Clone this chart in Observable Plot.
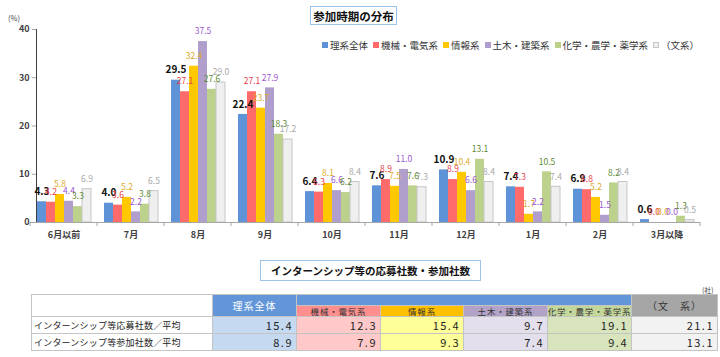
<!DOCTYPE html>
<html><head><meta charset="utf-8">
<script src="https://cdn.jsdelivr.net/npm/d3@7"></script>
<script src="https://cdn.jsdelivr.net/npm/@observablehq/plot@0.6"></script>
<style>
html,body{margin:0;padding:0;background:#fff;}
body{width:720px;height:357px;position:relative;overflow:hidden;font-family:"Noto Sans CJK JP","Noto Sans",sans-serif;color:#333;}
.box{position:absolute;border:1px solid #9cc3e8;background:#fff;font-weight:bold;color:#111;display:flex;align-items:center;justify-content:center;box-sizing:border-box;white-space:nowrap;}
#chart{position:absolute;left:0;top:0;}
#legend{position:absolute;top:39px;left:322px;display:flex;font-size:9.5px;white-space:nowrap;line-height:12px;color:#333;}
#legend .item{display:flex;align-items:center;margin-right:5px;}
#legend .sw{width:6px;height:6px;margin-right:2px;box-sizing:border-box;}
#pct{position:absolute;left:8px;top:12px;font-size:7.5px;color:#404040;}
#unit{position:absolute;left:702px;top:285px;font-size:7px;color:#404040;}
#tbl{position:absolute;left:31px;top:294px;display:grid;grid-template-columns:180px 83px 83px 82px 83px 83px 85px;grid-template-rows:10px 10px 16px 16px;gap:1px;padding:1px;background:#c4c4c4;}
#tbl div{display:flex;align-items:center;overflow:hidden;white-space:nowrap;}
#tbl .hd{justify-content:center;}
#tbl .lbl{background:#fff;font-size:9px;color:#222;padding-left:2px;letter-spacing:0.2px;}
#tbl .num{justify-content:flex-end;font-size:11px;color:#222;padding-right:3px;letter-spacing:1.5px;}
svg [aria-label^="y-axis"] line, svg [aria-label^="y-axis"] path{stroke:#a6a6a6;}
svg [aria-label^="y-axis"] text{font-weight:bold;}
svg [aria-label^="fx-axis"] text{font-weight:bold;}
</style>
</head><body>
<div id="chart"></div>
<div class="box" id="title1" style="left:310px;top:6px;width:87px;height:19px;font-size:11.5px;">参加時期の分布</div>
<div id="pct">(%)</div>
<div id="legend"></div>
<div class="box" id="title2" style="left:260px;top:260px;width:221px;height:21px;font-size:10.5px;">インターンシップ等の応募社数・参加社数</div>
<div id="unit">(社)</div>
<div id="tbl"></div>
<script>
const categories = ["6月以前","7月","8月","9月","10月","11月","12月","1月","2月","3月以降"];
const seriesNames = ["理系全体","機械・電気系","情報系","土木・建築系","化学・農学・薬学系","（文系）"];
const rikeiAll = [4.3,4.0,29.5,22.4,6.4,7.6,10.9,7.4,6.9,0.6];
const kikaiDenki = [4.2,3.6,27.1,27.1,6.3,8.9,8.9,7.3,6.8,0.0];
const jouhou = [5.8,5.2,32.4,23.7,8.1,7.5,10.4,1.7,5.2,0.0];
const dobokuKenchiku = [4.4,2.2,37.5,27.9,6.6,11.0,6.6,2.2,1.5,0.0];
const kagakuNouYaku = [3.3,3.8,27.6,18.3,6.2,7.6,13.1,10.5,8.2,1.3];
const bunkei = [6.9,6.5,29.0,17.2,8.4,7.3,8.4,7.4,8.4,0.5];
const yTicks = [0,10,20,30,40];
const barColors = ["#5f93d8","#ff6b6b","#ffc800","#b09fcc","#bcd18c","#efefef"];
const labelColors = ["#111111","#e8404b","#dcaa2a","#9a58d2","#5f8a35","#a8a8a8"];

const tableHeaders = ["理系全体","機械・電気系","情報系","土木・建築系","化学・農学・薬学系","（文　系）"];
const tableRowLabels = ["インターンシップ等応募社数／平均","インターンシップ等参加社数／平均"];
const applyCounts = [15.4,12.3,15.4,9.7,19.1,21.1];
const joinCounts = [8.9,7.9,9.3,7.4,9.4,13.1];
const headColors = ["#6296d8","#ff8e8e","#ffc000","#b3a2c8","#c4d79b","#a6a6a6"];
const cellColors = ["#c5d9f1","#ffc9c9","#ffff99","#e4dfec","#d8e4bc","#f2f2f2"];

const seriesValues = [rikeiAll,kikaiDenki,jouhou,dobokuKenchiku,kagakuNouYaku,bunkei];
const data = [];
categories.forEach((c,ci)=>seriesNames.forEach((s,si)=>data.push({month:c,series:s,value:seriesValues[si][ci]})));

const marks = [];
seriesNames.forEach((s,i)=>{
  const opts = {filter:d=>d.series===s, x:"series", y:"value", fill:barColors[i], inset:0};
  if (i===5) { opts.stroke = "#c6c6c6"; opts.strokeWidth = 1; }
  marks.push(Plot.barY(data, opts));
});
seriesNames.forEach((s,i)=>{
  marks.push(Plot.text(data,{filter:d=>d.series===s, x:"series", y:"value", text:d=>d.value.toFixed(1), dy:-10,
    fill:labelColors[i], fontSize:i===0?10:8.5, fontWeight:i===0?"bold":"normal"}));
});

const plot = Plot.plot({
  width:720, height:250, marginLeft:30, marginRight:20, marginTop:29, marginBottom:28,
  facet:{data, x:"month"},
  fx:{domain:categories, paddingInner:0.18, paddingOuter:0.09, axis:"bottom", tickSize:0, tickPadding:9, label:null},
  x:{domain:seriesNames, padding:0, axis:null},
  y:{domain:[0,40], ticks:yTicks, tickSize:4, tickPadding:3, line:true, label:null},
  style:{fontFamily:'"Noto Sans CJK JP","Noto Sans",sans-serif', fontSize:"9px", color:"#404040", background:"transparent"},
  marks
});
document.getElementById("chart").appendChild(plot);

// baseline and group separator ticks from the fx/y scales
const fx = plot.scale("fx");
const yS = plot.scale("y");
const y0 = yS.apply(0);
const step = fx.step ?? ((720-30-20)/categories.length);
const bw = fx.bandwidth ?? step*0.82;
const edges = categories.map(c=>fx.apply(c)-(step-bw)/2);
edges.push(edges[edges.length-1]+step);
const svg = plot.tagName.toLowerCase()==="svg" ? plot : plot.querySelector("svg");
const g = d3.select(svg).append("g").attr("stroke","#a6a6a6").attr("stroke-width",1);
g.append("line").attr("x1",edges[0]).attr("x2",edges[edges.length-1]).attr("y1",y0+0.5).attr("y2",y0+0.5);
edges.forEach(x=>g.append("line").attr("x1",x).attr("x2",x).attr("y1",y0).attr("y2",y0+4));

// legend
const legend = d3.select("#legend");
seriesNames.forEach((s,i)=>{
  const it = legend.append("div").attr("class","item");
  it.append("div").attr("class","sw").style("background",barColors[i]).style("border",i===5?"1px solid #c6c6c6":"none");
  it.append("span").text(s);
});

// table
const tbl = d3.select("#tbl");
function cell(cls, text, col, row, bg, extra){
  const d = tbl.append("div").attr("class",cls).text(text).style("grid-column",col).style("grid-row",row).style("background",bg);
  if (extra) Object.entries(extra).forEach(([k,v])=>d.style(k,v));
  return d;
}
cell("hd","", "1", "1 / 3", "#fff");
cell("hd",tableHeaders[0],"2","1 / 3",headColors[0],{color:"#fff","font-size":"10px","letter-spacing":"1px"});
cell("hd","","3 / 7","1",headColors[0]);
for (let i=1;i<=4;i++) cell("hd",tableHeaders[i],String(i+2),"2",headColors[i],{color:"#333","font-size":"8.5px","letter-spacing":"0.8px"});
cell("hd",tableHeaders[5],"7","1 / 3",headColors[5],{color:"#333","font-size":"10px","letter-spacing":"1px"});
[applyCounts,joinCounts].forEach((vals,r)=>{
  cell("lbl",tableRowLabels[r],"1",String(r+3),"#fff");
  vals.forEach((v,i)=>cell("num",v.toFixed(1),String(i+2),String(r+3),cellColors[i]));
});
</script>
</body></html>
